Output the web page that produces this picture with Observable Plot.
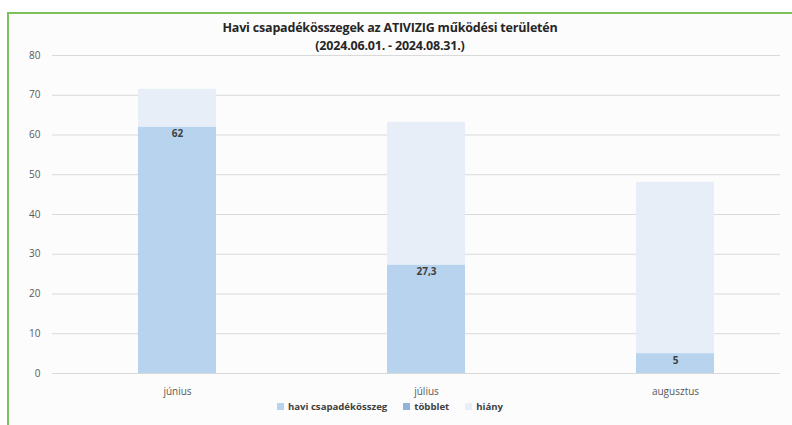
<!DOCTYPE html>
<html>
<head>
<meta charset="utf-8">
<script src="https://cdn.jsdelivr.net/npm/d3@7"></script>
<script src="https://cdn.jsdelivr.net/npm/@observablehq/plot@0.6"></script>
<style>
  html, body { margin: 0; padding: 0; background: #fff; }
  #wrap { position: relative; width: 792px; height: 425px; overflow: hidden; background: #fff; font-family: "Open Sans", sans-serif; }
  #frame { position: absolute; left: 7px; top: 12px; width: 790px; height: 420px; border-left: 2px solid #7dc15a; border-top: 2px solid #7dc15a; background: #fcfcfc; }
  #title { position: absolute; left: 0; top: 19px; width: 780px; text-align: center; font-weight: 700; font-size: 12.5px; line-height: 18px; color: #262626; letter-spacing: -0.2px; }
  #chart { position: absolute; left: 0; top: 45px; }
  #legend { position: absolute; top: 400px; left: 0; width: 780px; display: flex; justify-content: center; gap: 16px; font-size: 9.6px; font-weight: 700; color: #404040; }
  #legend span.item { display: inline-flex; align-items: center; }
  #legend i { display: inline-block; width: 7px; height: 7px; margin-right: 4px; }
</style>
</head>
<body>
<div id="wrap">
  <div id="frame"></div>
  <div id="title">Havi csapadékösszegek az ATIVIZIG működési területén<br>(2024.06.01. - 2024.08.31.)</div>
  <div id="chart"></div>
  <div id="legend"></div>
</div>
<script>
const months = ["június", "július", "augusztus"];
const rainfall = [62, 27.3, 5];          // havi csapadékösszeg
const surplus = [0, 0, 0];               // többlet
const deficit = [9.5, 35.9, 43.1];       // hiány
const seriesNames = ["havi csapadékösszeg", "többlet", "hiány"];
const seriesColors = ["#b8d3ed", "#8fb3da", "#e7eef7"];
const rainLabels = ["62", "27,3", "5"];
const yTicks = [0, 10, 20, 30, 40, 50, 60, 70, 80];

const rows = [];
months.forEach((m, i) => {
  rows.push({month: m, series: seriesNames[0], value: rainfall[i]});
  rows.push({month: m, series: seriesNames[1], value: surplus[i]});
  rows.push({month: m, series: seriesNames[2], value: deficit[i]});
});
const labels = months.map((m, i) => ({month: m, value: rainfall[i], label: rainLabels[i]}));

const chart = Plot.plot({
  width: 792,
  height: 355,
  marginLeft: 52,
  marginRight: 12,
  marginTop: 10,
  marginBottom: 27,
  style: {fontFamily: "Open Sans, sans-serif", fontSize: "10px", color: "#595959", background: "transparent"},
  x: {domain: months, range: [52, 799], paddingInner: 0.687, paddingOuter: 0.3435, label: null},
  y: {domain: [0, 80], ticks: yTicks, label: null},
  color: {domain: seriesNames, range: seriesColors},
  marks: [
    Plot.ruleY(yTicks, {stroke: "#d9d9d9", strokeWidth: 1}),
    Plot.barY(rows, Plot.stackY({x: "month", y: "value", fill: "series", order: seriesNames})),
    Plot.text(labels, {x: "month", y: "value", text: "label", dy: 7, fill: "#404040", fontWeight: 700, fontSize: 10}),
    Plot.axisY({ticks: yTicks, tickSize: 0, tickPadding: 12, fill: "#595959", fontSize: 10}),
    Plot.axisX({tickSize: 0, tickPadding: 14, fill: "#595959", fontSize: 10})
  ]
});
document.getElementById("chart").appendChild(chart);

const legend = document.getElementById("legend");
seriesNames.forEach((s, i) => {
  const item = document.createElement("span");
  item.className = "item";
  const sw = document.createElement("i");
  sw.style.background = seriesColors[i];
  item.appendChild(sw);
  item.appendChild(document.createTextNode(s));
  legend.appendChild(item);
});
</script>
</body>
</html>
